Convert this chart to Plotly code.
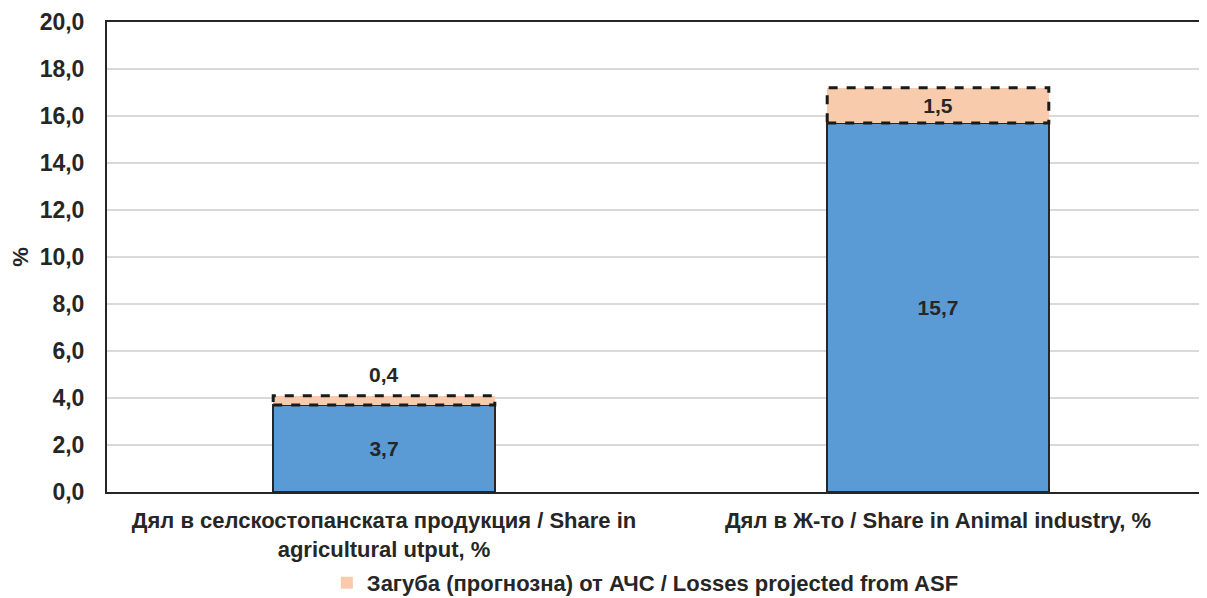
import plotly.graph_objects as go

categories = [
    "Дял в селскостопанската продукция / Share in<br>agricultural utput, %",
    "Дял в Ж-то / Share in Animal industry, %",
]
share_values = [3.7, 15.7]
loss_values = [0.4, 1.5]
loss_name = "Загуба (прогнозна) от АЧС / Losses projected from ASF"
y_ticks = [0, 2, 4, 6, 8, 10, 12, 14, 16, 18, 20]

FONT = "Liberation Sans, Arial, sans-serif"
TXT = "#262626"
BAR_W = 0.4
FS = 21

fig = go.Figure()
fig.add_trace(go.Bar(
    x=categories, y=share_values, width=BAR_W,
    marker=dict(color="#5B9BD5", line=dict(color="#262626", width=1.5)),
    text=[f"{v:.1f}".replace(".", ",") for v in share_values],
    textposition="inside", insidetextanchor="middle",
    textfont=dict(family=FONT, size=FS, color=TXT, weight="bold"),
    showlegend=False, hoverinfo="skip",
))
loss_text = [f"{v:.1f}".replace(".", ",") for v in loss_values]
fig.add_trace(go.Bar(
    x=categories, y=loss_values, width=BAR_W,
    marker=dict(color="#F8CBAD", line=dict(width=0)),
    name=loss_name,
    text=["" if v < 1 else t for v, t in zip(loss_values, loss_text)],
    textposition="inside", insidetextanchor="middle",
    textfont=dict(family=FONT, size=FS, color=TXT, weight="bold"),
    hoverinfo="skip",
))

# dashed outlines for the loss segments and outside labels for small ones
for i, (b, v, t) in enumerate(zip(share_values, loss_values, loss_text)):
    fig.add_shape(type="rect", xref="x", yref="y",
                  x0=i - BAR_W / 2, x1=i + BAR_W / 2, y0=b, y1=b + v,
                  line=dict(color="#1a1a1a", width=3, dash="dash"),
                  fillcolor="rgba(0,0,0,0)", layer="above")
    if v < 1:
        fig.add_annotation(x=categories[i], y=b + v, text=t, showarrow=False,
                           yanchor="bottom", yshift=8,
                           font=dict(family=FONT, size=FS, color=TXT, weight="bold"))

fig.update_layout(
    width=1191, height=590,
    margin=dict(l=99, r=0, t=14, b=106, autoexpand=False),
    paper_bgcolor="white", plot_bgcolor="white",
    barmode="stack", separators=", ",
    font=dict(family=FONT, color=TXT, size=FS, weight="bold"),
    legend=dict(orientation="h", x=0.493, xanchor="center",
                y=-0.1936, yanchor="middle", bgcolor="rgba(0,0,0,0)",
                font=dict(family=FONT, size=22, color=TXT, weight="bold"),
                itemwidth=30),
    showlegend=True,
)
fig.update_xaxes(
    range=[-0.5, -0.5 + 1092 / 554],
    showline=True, linecolor="#262626", linewidth=2, mirror=True,
    showgrid=False, ticks="", ticklabelstandoff=8,
    tickfont=dict(family=FONT, size=22, color=TXT, weight="bold"),
)
fig.update_yaxes(
    range=[0, 20], tickvals=y_ticks, tickformat=".1f",
    showline=True, linecolor="#262626", linewidth=2,
    showgrid=True, gridcolor="#d9d9d9", gridwidth=1.5,
    zeroline=False, ticks="", ticklabelstandoff=16,
    tickfont=dict(family=FONT, size=23, color=TXT, weight="bold"),
    title=dict(text="%", standoff=14, font=dict(family=FONT, size=22, color=TXT, weight="bold")),
)

fig.write_html("out.html")
